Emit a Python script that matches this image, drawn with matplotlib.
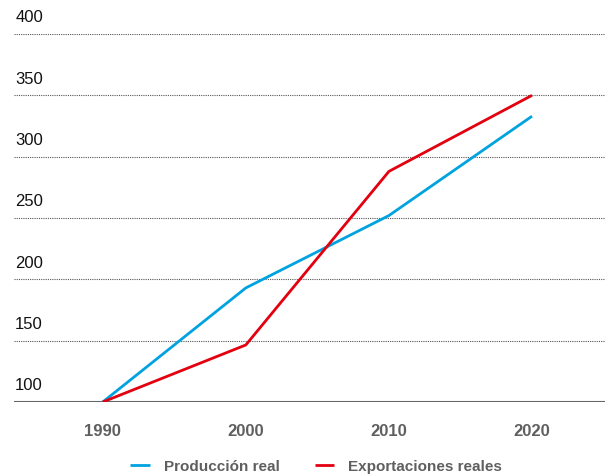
import matplotlib
matplotlib.use("Agg")
import matplotlib.pyplot as plt
from matplotlib.transforms import blended_transform_factory, offset_copy

years = [1990, 2000, 2010, 2020]
produccion = [100, 193, 252, 333]
exportaciones = [100, 146.5, 288, 350]
yticks = [100, 150, 200, 250, 300, 350, 400]
series_names = ["Producción real", "Exportaciones reales"]

plt.rcParams['font.family'] = ['Liberation Sans', 'DejaVu Sans']

blue = "#00a3e0"
red = "#e3000f"
gray = "#5f5f5f"

fig = plt.figure(figsize=(6.05, 4.77), dpi=100)
ax = fig.add_axes([14/605, 74/477, 591/605, (403-35)/477])

ax.plot(years, produccion, color=blue, lw=2.0, label=series_names[0], solid_capstyle='butt', zorder=3)
ax.plot(years, exportaciones, color=red, lw=2.0, label=series_names[1], solid_capstyle='butt', zorder=4)

ax.set_xlim(1983.8, 2025.1)
ax.set_ylim(100, 400)

for v in yticks[1:]:
    ax.axhline(v, color="#555555", lw=0.8, ls=(0, (1, 1)), zorder=1)
ax.axhline(100, color="#666666", lw=1.5, zorder=2)

for s in ax.spines.values():
    s.set_visible(False)
ax.set_yticks([])
ax.set_xticks(years)
ax.set_xticklabels([str(y) for y in years], fontsize=12, fontweight='bold', color=gray)
ax.tick_params(axis='x', length=0, pad=15)

trans = blended_transform_factory(ax.transAxes, ax.transData)
trans = offset_copy(trans, fig=fig, x=0, y=9, units='points')
for v in yticks:
    ax.text(0.002, v, str(v), transform=trans, ha='left', va='baseline', fontsize=12, color='#111111', clip_on=False)

leg = ax.legend(loc='center', bbox_to_anchor=(316/605, 1 - 467/477), bbox_transform=fig.transFigure,
                ncol=2, frameon=False, fontsize=11, handlelength=1.3, handletextpad=0.9, columnspacing=2.3)
for t in leg.get_texts():
    t.set_color(gray)
    t.set_fontweight('bold')

fig.savefig("out.png", dpi=100)
